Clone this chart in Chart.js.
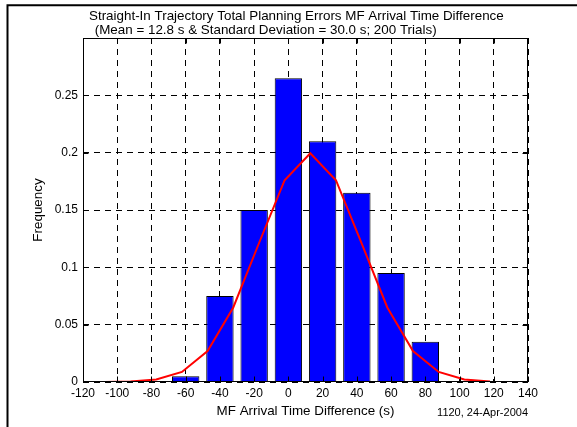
<!DOCTYPE html>
<html>
<head>
<meta charset="utf-8">
<script src="https://cdn.jsdelivr.net/npm/chart.js@4/dist/chart.umd.min.js"></script>
<style>
  html, body { margin: 0; padding: 0; background: #ffffff; }
  canvas { display: block; }
</style>
</head>
<body>
<canvas id="hist" width="577" height="427"></canvas>
<script>
// Histogram bins (bin centres, seconds) and their relative frequency
const binCenters = [-60, -40, -20, 0, 20, 40, 60, 80];
const binFrequency = [0.005, 0.075, 0.15, 0.265, 0.21, 0.165, 0.095, 0.035];

// Fitted normal curve samples (x in seconds, scaled density)
const fitX = [-107.2, -92.2, -77.2, -62.2, -47.2, -32.2, -17.2, -2.2, 12.8, 27.8, 42.8, 57.8, 72.8, 87.8, 102.8, 117.8];
const fitY = [0.0001, 0.0004, 0.0022, 0.0088, 0.027, 0.065, 0.121, 0.176, 0.1995, 0.176, 0.121, 0.065, 0.027, 0.0088, 0.0022, 0.0004];

// Axis ticks
const xTicks = [-120, -100, -80, -60, -40, -20, 0, 20, 40, 60, 80, 100, 120, 140];
const yTicks = [0, 0.05, 0.1, 0.15, 0.2, 0.25, 0.3];
const yTickLabels = ['0', '0.05', '0.1', '0.15', '0.2', '0.25', ''];

// Text
const titleLines = [
  'Straight-In Trajectory Total Planning Errors MF Arrival Time Difference',
  ' (Mean = 12.8 s & Standard Deviation = 30.0 s; 200 Trials)'
];
const xLabel = 'MF Arrival Time Difference (s)';
const yLabel = 'Frequency';
const stamp = '1120, 24-Apr-2004';

const FONT = "'Liberation Sans', Arial, Helvetica, sans-serif";

// Figure frame, title, axes box, inward ticks and date stamp
const figureDecor = {
  id: 'figureDecor',
  beforeDraw(chart) {
    const ctx = chart.ctx;
    ctx.save();
    ctx.fillStyle = '#ffffff';
    ctx.fillRect(0, 0, chart.width, chart.height);
    ctx.restore();
  },
  afterDraw(chart) {
    const ctx = chart.ctx;
    const a = chart.chartArea;
    const xs = chart.scales.x, ys = chart.scales.y;
    ctx.save();
    // outer figure frame (top and left edges)
    ctx.strokeStyle = '#000000';
    ctx.lineWidth = 2;
    ctx.beginPath();
    ctx.moveTo(7.5, chart.height);
    ctx.lineTo(7.5, 5.3);
    ctx.lineTo(chart.width, 5.3);
    ctx.stroke();

    // axes box
    ctx.lineWidth = 1;
    const L = Math.round(a.left) + 0.5, R = Math.round(a.right) - 0.5;
    const T = Math.round(a.top) + 0.5, B = Math.round(a.bottom) - 0.5;
    ctx.strokeRect(L, T, R - L, B - T);

    // inward tick marks
    const tl = 5;
    ctx.beginPath();
    xTicks.forEach(v => {
      const px = Math.round(xs.getPixelForValue(v)) + 0.5;
      ctx.moveTo(px, B); ctx.lineTo(px, B - tl);
      ctx.moveTo(px, T); ctx.lineTo(px, T + tl);
    });
    yTicks.forEach(v => {
      const py = Math.round(ys.getPixelForValue(v)) + 0.5;
      ctx.moveTo(L, py); ctx.lineTo(L + tl, py);
      ctx.moveTo(R, py); ctx.lineTo(R - tl, py);
    });
    ctx.stroke();

    // title, left aligned lines
    ctx.fillStyle = '#000000';
    ctx.textBaseline = 'middle';
    ctx.textAlign = 'left';
    ctx.font = '13.4px ' + FONT;
    ctx.fillText(titleLines[0], 89, 16);
    ctx.fillText(titleLines[1], 91, 30);

    // date stamp
    ctx.font = '11px ' + FONT;
    ctx.textAlign = 'right';
    ctx.fillText(stamp, a.right, 413);
    ctx.restore();
  }
};

const barData = binCenters.map((x, i) => ({ x: x, y: binFrequency[i] }));
const fitData = fitX.map((x, i) => ({ x: x, y: fitY[i] }));

new Chart(document.getElementById('hist'), {
  type: 'bar',
  data: {
    datasets: [
      {
        type: 'line',
        data: fitData,
        borderColor: '#ff0000',
        borderWidth: 2,
        pointRadius: 0,
        tension: 0,
        fill: false,
        order: 0
      },
      {
        type: 'bar',
        data: barData,
        backgroundColor: '#0000ff',
        borderColor: '#000000',
        borderWidth: 1,
        categoryPercentage: 1.0,
        barPercentage: 0.8,
        order: 1
      }
    ]
  },
  options: {
    responsive: false,
    animation: false,
    devicePixelRatio: 1,
    layout: { padding: { left: 0, top: 38, right: 49, bottom: 0 } },
    plugins: {
      legend: { display: false },
      tooltip: { enabled: false },
      title: { display: false }
    },
    scales: {
      x: {
        type: 'linear',
        min: -120,
        max: 140,
        offset: false,
        afterFit(scale) { scale.height = 45; },
        afterBuildTicks(scale) { scale.ticks = xTicks.map(v => ({ value: v })); },
        ticks: {
          color: '#000000',
          font: { family: FONT, size: 12 },
          padding: 4,
          maxRotation: 0,
          autoSkip: false,
          callback: (v) => String(v)
        },
        grid: {
          color: '#000000',
          lineWidth: 1,
          drawTicks: false,
          offset: false
        },
        border: { display: false, dash: [6, 5] },
        title: {
          display: true,
          text: xLabel,
          color: '#000000',
          font: { family: FONT, size: 13.4, lineHeight: 1 },
          padding: { top: 0, bottom: 8.6 }
        }
      },
      y: {
        type: 'linear',
        min: 0,
        max: 0.3,
        afterFit(scale) { scale.width = 83; },
        afterBuildTicks(scale) { scale.ticks = yTicks.map(v => ({ value: v })); },
        ticks: {
          color: '#000000',
          font: { family: FONT, size: 12 },
          padding: 5,
          autoSkip: false,
          callback: (v) => {
            const i = yTicks.findIndex(t => Math.abs(t - v) < 1e-9);
            return i >= 0 ? yTickLabels[i] : '';
          }
        },
        grid: {
          color: '#000000',
          lineWidth: 1,
          drawTicks: false
        },
        border: { display: false, dash: [6, 5] },
        title: {
          display: true,
          text: yLabel,
          color: '#000000',
          font: { family: FONT, size: 13.4, lineHeight: 1 },
          padding: { top: 32, bottom: 0 }
        }
      }
    }
  },
  plugins: [figureDecor]
});
</script>
</body>
</html>
